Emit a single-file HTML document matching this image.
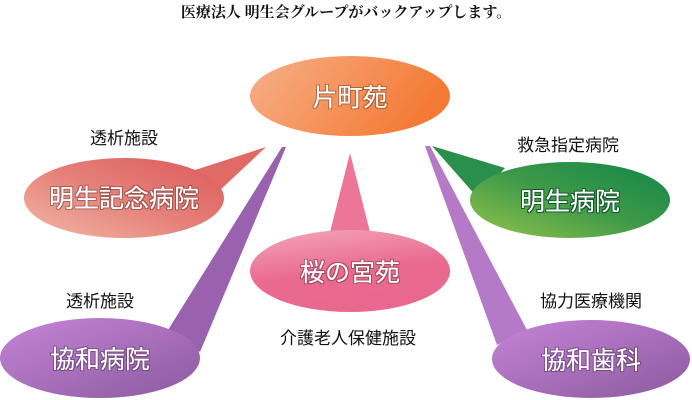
<!DOCTYPE html>
<html><head><meta charset="utf-8"><style>
html,body{margin:0;padding:0;background:#fff;}
svg{display:block;}
.lbl{font-family:"Liberation Sans","Noto Sans CJK JP",sans-serif;font-size:17px;fill:#111;text-anchor:middle;}
.nd{font-family:"Liberation Sans","Noto Sans CJK JP",sans-serif;font-size:25px;fill:#fff;text-anchor:middle;font-weight:normal;}
</style></head><body>
<svg width="692" height="400" viewBox="0 0 692 400" xmlns="http://www.w3.org/2000/svg">
<defs>
<linearGradient id="go" x1="0" y1="0" x2="1" y2="0.3"><stop offset="0" stop-color="#f7b089"/><stop offset="1" stop-color="#f47a35"/></linearGradient>
<linearGradient id="gr" x1="0" y1="1" x2="1" y2="0"><stop offset="0" stop-color="#f2b8a8"/><stop offset="0.5" stop-color="#e58078"/><stop offset="1" stop-color="#dc5a5a"/></linearGradient>
<linearGradient id="gg" x1="0" y1="1" x2="1" y2="0"><stop offset="0" stop-color="#96c44c"/><stop offset="0.5" stop-color="#3f9a48"/><stop offset="1" stop-color="#10854a"/></linearGradient>
<linearGradient id="gp" x1="0" y1="0" x2="0.3" y2="1"><stop offset="0" stop-color="#f4a6bc"/><stop offset="0.6" stop-color="#ea6a8e"/><stop offset="1" stop-color="#e86890"/></linearGradient>
<linearGradient id="gv" x1="0" y1="0" x2="1" y2="1"><stop offset="0" stop-color="#c584d8"/><stop offset="1" stop-color="#8c5a9e"/></linearGradient>
<filter id="sh"><feMorphology operator="dilate" radius="1" in="SourceAlpha" result="d"/><feFlood flood-color="#000" flood-opacity="0.3"/><feComposite in2="d" operator="in"/><feMerge><feMergeNode/><feMergeNode in="SourceGraphic"/></feMerge></filter>
<filter id="shg"><feMorphology operator="dilate" radius="1.2" in="SourceAlpha" result="d"/><feFlood flood-color="#0a5a2a"/><feComposite in2="d" operator="in"/><feMerge><feMergeNode/><feMergeNode in="SourceGraphic"/></feMerge></filter>
</defs>
<text x="346" y="17" text-anchor="middle" font-family="'Liberation Serif','Noto Serif CJK SC',serif" font-size="15" font-weight="bold" fill="#111">医療法人 明生会グループがバックアップします。</text>

<ellipse cx="350" cy="96" rx="100" ry="40" fill="url(#go)"/>
<text class="nd" x="350" y="106" filter="url(#sh)">片町苑</text>

<polygon points="266,147 195,170 218,192" fill="#e06a66"/>
<ellipse cx="124" cy="198" rx="100" ry="40" fill="url(#gr)"/>
<text class="nd" x="124" y="207" filter="url(#sh)">明生記念病院</text>

<polygon points="432,146 505,168 478,198" fill="#2a8f4a"/>
<ellipse cx="570" cy="200" rx="100" ry="38" fill="url(#gg)"/>
<text class="nd" x="570" y="210" filter="url(#shg)">明生病院</text>

<polygon points="350,153 328,240 372,240" fill="#ec7598"/>
<ellipse cx="350" cy="271" rx="100" ry="41" fill="url(#gp)"/>
<text class="nd" x="350" y="281" filter="url(#sh)">桜の宮苑</text>

<polygon points="282,147 286,147 200,352 168,330" fill="#9a62ae"/>
<ellipse cx="100" cy="358" rx="100" ry="40" fill="url(#gv)"/>
<text class="nd" x="100" y="368" filter="url(#sh)">協和病院</text>

<polygon points="425,146 430,146 527,330 497,345" fill="#b47ac8"/>
<ellipse cx="591" cy="359" rx="99" ry="39" fill="url(#gv)"/>
<text class="nd" x="591" y="369" filter="url(#sh)">協和歯科</text>

<text class="lbl" x="124" y="144">透析施設</text>
<text class="lbl" x="568" y="151">救急指定病院</text>
<text class="lbl" x="100" y="307">透析施設</text>
<text class="lbl" x="591" y="307">協力医療機関</text>
<text class="lbl" x="348" y="344">介護老人保健施設</text>
</svg>
</body></html>
